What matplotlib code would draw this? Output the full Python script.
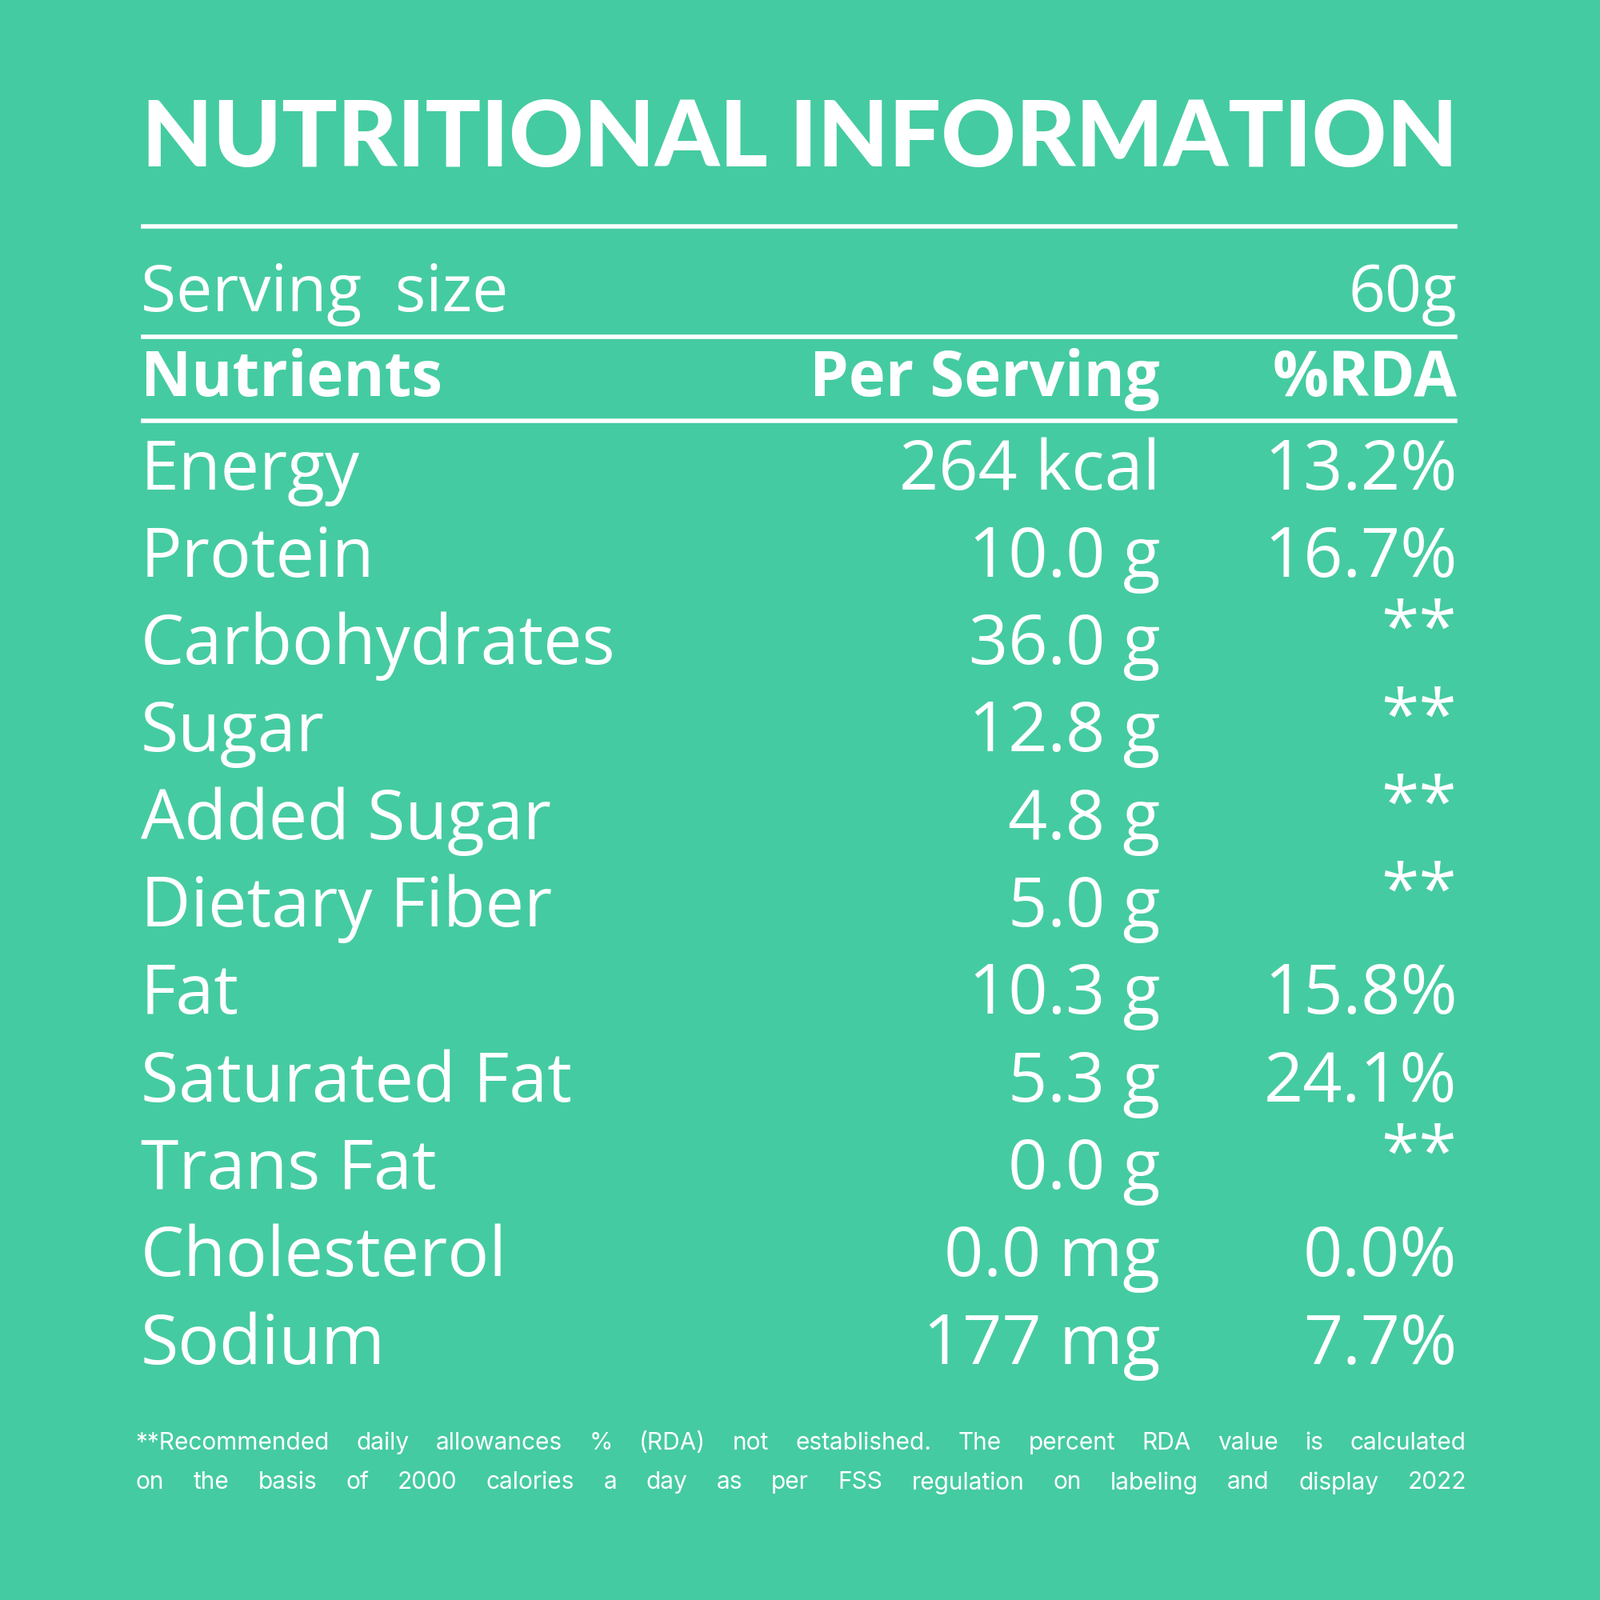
import matplotlib.pyplot as plt

BG = "#45CBA1"
nutrients = ["Energy", "Protein", "Carbohydrates", "Sugar", "Added Sugar",
             "Dietary Fiber", "Fat", "Saturated Fat", "Trans Fat",
             "Cholesterol", "Sodium"]
per_serving = ["264 kcal", "10.0 g", "36.0 g", "12.8 g", "4.8 g", "5.0 g",
               "10.3 g", "5.3 g", "0.0 g", "0.0 mg", "177 mg"]
rda = ["13.2%", "16.7%", "**", "**", "**", "**", "15.8%", "24.1%", "**",
       "0.0%", "7.7%"]
serving_size = "60g"
footnote = ["**Recommended daily allowances % (RDA) not established. The percent RDA value is calculated",
            "on the basis of 2000 calories a day as per FSS regulation on labeling and display 2022"]

S = 1568.0  # reference pixel scale


def fy(y):
    return 1 - y / S


def fx(x):
    return x / S


fig = plt.figure(figsize=(20, 20), dpi=100, facecolor=BG)
ax = fig.add_axes([0, 0, 1, 1])
ax.set_xlim(0, 1)
ax.set_ylim(0, 1)
ax.axis("off")
ax.set_facecolor(BG)

NARROW = ["Liberation Sans Narrow", "Open Sans", "DejaVu Sans"]

ax.text(fx(784), fy(137), "NUTRITIONAL INFORMATION", ha="center", va="center",
        fontsize=83, fontweight="black", family=["Lato", "Inter"], color="white")

for y in [222, 330, 412]:
    ax.plot([fx(140), fx(1426)], [fy(y), fy(y)], color="white", lw=4)

ax.text(fx(138), fy(288), "Serving  size", ha="left", va="center",
        fontsize=58, family=NARROW, color="white")
ax.text(fx(1428), fy(288), serving_size, ha="right", va="center",
        fontsize=58, family=NARROW, color="white")

ax.text(fx(138), fy(372), "Nutrients", ha="left", va="center", fontsize=56,
        fontweight="bold", family=NARROW, color="white")
ax.text(fx(1137), fy(372), "Per Serving", ha="right", va="center", fontsize=56,
        fontweight="bold", family=NARROW, color="white")
ax.text(fx(1428), fy(372), "%RDA", ha="right", va="center", fontsize=56,
        fontweight="bold", family=NARROW, color="white")

for i, (n, p, r) in enumerate(zip(nutrients, per_serving, rda)):
    y = fy(462 + i * 85.7)
    ax.text(fx(138), y, n, ha="left", va="center", fontsize=62,
            family=NARROW, color="white")
    ax.text(fx(1137), y, p, ha="right", va="center", fontsize=62,
            family=NARROW, color="white")
    ax.text(fx(1428), y if r != "**" else y + 0.008, r, ha="right",
            va="center", fontsize=62, family=NARROW, color="white")

# justified footnote lines between x=133 and x=1437
renderer = fig.canvas.get_renderer()
left, right = fx(133), fx(1437)
for j, line in enumerate(footnote):
    words = line.split(" ")
    y = fy(1414 + j * 39)
    arts = [ax.text(0, y, w, ha="left", va="center", fontsize=21.5,
                    family=["Inter", "DejaVu Sans"], color="white")
            for w in words]
    widths = []
    for a in arts:
        bb = a.get_window_extent(renderer).transformed(ax.transData.inverted())
        widths.append(bb.width)
    gap = (right - left - sum(widths)) / (len(words) - 1)
    x = left
    for a, w in zip(arts, widths):
        a.set_x(x)
        x += w + gap

fig.savefig("out.png", dpi=100, facecolor=BG)
